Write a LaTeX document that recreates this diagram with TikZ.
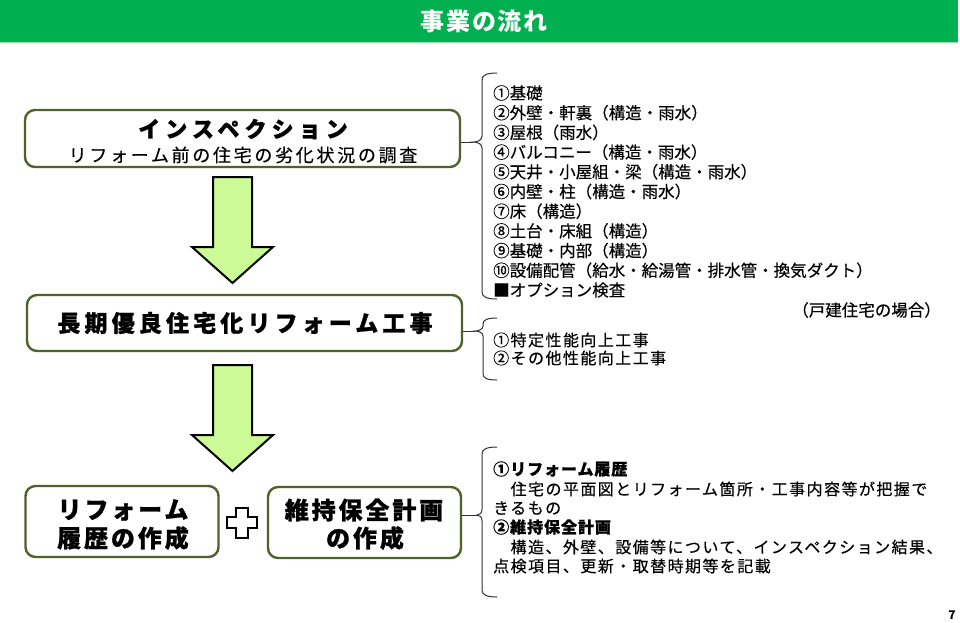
\documentclass[tikz,border=0pt]{standalone}
\usepackage{fontspec}
\newfontfamily\jp{Noto Sans CJK JP}
\usetikzlibrary{calc}
\definecolor{hdr}{HTML}{00B050}
\definecolor{hdrline}{HTML}{9FE0B8}
\definecolor{boxc}{HTML}{4F6228}
\definecolor{arrowc}{HTML}{CCFA96}
\tikzset{
  bigarrow/.pic={\path[arrowshape] (-19.5,0) -- (19.5,0) -- (19.5,70) -- (40.5,70) -- (0,106) -- (-40.5,70) -- (-19.5,70) -- cycle;},
  plussign/.pic={\path[plusshape] (-6,-15) -- (6,-15) -- (6,-5.5) -- (15,-5.5) -- (15,5.5) -- (6,5.5) -- (6,15.5) -- (-6,15.5) -- (-6,5.5) -- (-15,5.5) -- (-15,-5.5) -- (-6,-5.5) -- cycle;}
}
\begin{document}
\begin{tikzpicture}[x=1pt,y=-1pt,
  box/.style={draw=boxc, line width=2.4pt, rounded corners=10pt, fill=white, inner sep=0pt},
  arrowshape/.style={draw=black, line width=2pt, fill=arrowc, line join=miter},
  plusshape/.style={draw=black, line width=2pt, fill=white, line join=miter},
  bracepath/.style={draw=black!80, line width=1pt},
  conn/.style={draw=black!80, line width=1pt},
  bigtext/.style={inner sep=0pt, font={\jp\bfseries\fontsize{24}{28}\selectfont\addfontfeature{LetterSpace=12,FakeBold=1}}},
  item/.style={anchor=west, inner sep=0pt, font={\jp\fontsize{16.5}{18}\selectfont\addfontfeature{FakeBold=0.3}}},
  item2/.style={anchor=west, inner sep=0pt, font={\jp\fontsize{16}{18}\selectfont\addfontfeature{LetterSpace=9,FakeBold=0.3}}},
  item2b/.style={anchor=west, inner sep=0pt, font={\jp\bfseries\fontsize{16}{18}\selectfont\addfontfeature{LetterSpace=6,FakeBold=0.8}}}
]
\useasboundingbox (0,0) rectangle (960,622);
\fill[white] (0,0) rectangle (960,622);
% header
\fill[hdr] (0,0) rectangle (958,42);
\draw[hdrline, line width=1.2pt] (0,42.6) -- (958,42.6);
\node[inner sep=0pt, text=white, font={\jp\bfseries\fontsize{24}{28}\selectfont\addfontfeature{LetterSpace=8}}] (title) at (484,21) {事業の流れ};

% boxes
\node[box, minimum width=435pt, minimum height=57pt] (insp) at (242.5,138.5) {};
\node[inner sep=0pt, font={\jp\bfseries\fontsize{22}{26}\selectfont\addfontfeature{LetterSpace=23,FakeBold=1}}] (insp-t) at (243,129) {インスペクション};
\node[inner sep=0pt, font={\jp\fontsize{18}{22}\selectfont\addfontfeature{LetterSpace=15,FakeBold=0.3}}] (insp-s) at (243,155) {リフォーム前の住宅の劣化状況の調査};

\node[box, minimum width=435pt, minimum height=56pt] (reform) at (244.5,323) {};
\node[inner sep=0pt, font={\jp\bfseries\fontsize{23}{26}\selectfont\addfontfeature{LetterSpace=18,FakeBold=1}}] (reform-t) at (245,323) {長期優良住宅化リフォーム工事};

\node[box, minimum width=193pt, minimum height=71pt] (rireki) at (122,521.5) {};
\node[bigtext] (rireki-1) at (123,510) {リフォーム};
\node[bigtext] (rireki-2) at (123,538) {履歴の作成};

\node[box, minimum width=193pt, minimum height=71pt] (hozen) at (364.5,522.5) {};
\node[bigtext] (hozen-1) at (364,510) {維持保全計画};
\node[bigtext] (hozen-2) at (365,538) {の作成};

% big arrows and plus
\pic at (232.5,177) {bigarrow};
\pic at (232.5,365) {bigarrow};
\pic at (242,522.5) {plussign};

% braces
\coordinate (tip1) at (473,142);
\coordinate (tip2) at (475,331);
\coordinate (tip3) at (477,515);
\draw[bracepath] (497,73) .. controls (487,73) and (482,75) .. (482,80) -- (482,136) .. controls (482,140) and (478,142) .. (tip1) .. controls (478,142) and (482,144) .. (482,148) -- (482,292) .. controls (482,297) and (487,299) .. (497,299);
\draw[bracepath] (497,318) .. controls (487,318) and (483,320) .. (483,324) -- (483,326) .. controls (483,329) and (479,331) .. (tip2) .. controls (479,331) and (483,333) .. (483,336) -- (483,374) .. controls (483,378) and (487,380) .. (497,380);
\draw[bracepath] (497,447) .. controls (487,447) and (482,449) .. (482,454) -- (482,509) .. controls (482,513) and (480,515) .. (tip3) .. controls (480,515) and (482,517) .. (482,521) -- (482,590) .. controls (482,595) and (487,597) .. (497,597);
\draw[conn] (insp.east |- tip1) -- (tip1);
\draw[conn] (reform.east |- tip2) -- (tip2);
\draw[conn] (hozen.east |- tip3) -- (tip3);

% list 1
\foreach \t [count=\i from 0] in {{①基礎},{②外壁・軒裏（構造・雨水）},{③屋根（雨水）},{④バルコニー（構造・雨水）},{⑤天井・小屋組・梁（構造・雨水）},{⑥内壁・柱（構造・雨水）},{⑦床（構造）},{⑧土台・床組（構造）},{⑨基礎・内部（構造）},{⑩設備配管（給水・給湯管・排水管・換気ダクト）},{■オプション検査}}
  \node[item] (l1-\i) at (493,93+19.7*\i) {\t};
\node[item, anchor=east] (kodate) at (941,310) {（戸建住宅の場合）};

% list 2
\node[item2] (l2-0) at (493,340) {①特定性能向上工事};
\node[item2] (l2-1) at (493,358) {②その他性能向上工事};

% list 3
\node[item2b] (l3-0) at (493,469) {①リフォーム履歴};
\node[item2] (l3-1) at (493,489) {　住宅の平面図とリフォーム箇所・工事内容等が把握で};
\node[item2] (l3-2) at (493,508) {きるもの};
\node[item2b] (l3-3) at (493,527) {②維持保全計画};
\node[item2] (l3-4) at (493,547) {　構造、外壁、設備等について、インスペクション結果、};
\node[item2] (l3-5) at (493,566) {点検項目、更新・取替時期等を記載};

% page number
\node[inner sep=0pt, anchor=south, font={\jp\bfseries\fontsize{12}{12}\selectfont}] (pg) at (952,620) {7};
\end{tikzpicture}
\end{document}
